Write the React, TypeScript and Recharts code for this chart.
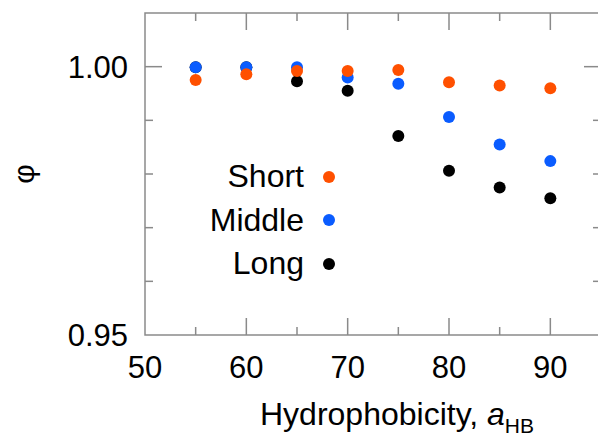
import { ScatterChart, Scatter, XAxis, YAxis, ReferenceArea, Legend } from "recharts"

// hydrophobicity a_HB on x, phi on y
const hydrophobicity = [55, 60, 65, 70, 75, 80, 85, 90]
const shortPhi = [0.9975, 0.9986, 0.9992, 0.9992, 0.9994, 0.9971, 0.9965, 0.996]
const middlePhi = [0.9999, 0.9999, 0.9999, 0.998, 0.9968, 0.9906, 0.9855, 0.9824]
const longPhi = [0.9999, 0.9999, 0.9973, 0.9955, 0.9871, 0.9806, 0.9775, 0.9755]

const seriesNames = ["Short", "Middle", "Long"]
const seriesColors = ["#ff5000", "#0a5cff", "#000000"]

const xTicks = [50, 55, 60, 65, 70, 75, 80, 85, 90]
const xLabels = [50, 60, 70, 80, 90]
const yTicks = [0.95, 0.96, 0.97, 0.98, 0.99, 1.0]
const yLabels = [0.95, 1.0]

const W = 601
const H = 441
const TOP = 13
const Y_AXIS_W = 145
const X_AXIS_H = 106
const PLOT_W = W - Y_AXIS_W
const PLOT_H = H - TOP - X_AXIS_H
const FRAME = "#8a8a8a"
const FONT = "'Liberation Sans', Arial, Helvetica, sans-serif"
const MAJOR = 17
const MINOR = 8

const toRows = (ys: number[]) => hydrophobicity.map((x, i) => ({ x, y: ys[i] }))

function BottomTick(props: any) {
  const { x, y, payload } = props
  const v = payload.value
  const len = v % 10 === 0 ? MAJOR : MINOR
  const top = y - PLOT_H
  return (
    <g>
      {v > 50 && (
        <>
          <line x1={x} y1={y} x2={x} y2={y - len} stroke={FRAME} strokeWidth={1.5} />
          <line x1={x} y1={top} x2={x} y2={top + len} stroke={FRAME} strokeWidth={1.5} />
        </>
      )}
      {xLabels.includes(v) && (
        <text x={x} y={y + 32} dy="0.35em" textAnchor="middle" fontSize={31} fontFamily={FONT} fill="#000">
          {v}
        </text>
      )}
    </g>
  )
}

function LeftTick(props: any) {
  const { x, y, payload } = props
  const v = payload.value
  const isLabel = yLabels.some((l) => Math.abs(l - v) < 1e-6)
  const len = isLabel ? MAJOR : MINOR
  const right = x + PLOT_W
  return (
    <g>
      {v > 0.951 && (
        <>
          <line x1={x} y1={y} x2={x + len} y2={y} stroke={FRAME} strokeWidth={1.5} />
          <line x1={right} y1={y} x2={right - len} y2={y} stroke={FRAME} strokeWidth={1.5} />
        </>
      )}
      {isLabel && (
        <text x={x - 17} y={y} dy="0.35em" textAnchor="end" fontSize={31} fontFamily={FONT} fill="#000">
          {v.toFixed(2)}
        </text>
      )}
    </g>
  )
}

function XTitle(props: any) {
  const vb = props.viewBox
  return (
    <text x={vb.x + vb.width / 2 + 24} y={vb.y + 90} textAnchor="middle" fontSize={32} fontFamily={FONT} fill="#000">
      Hydrophobicity, <tspan fontStyle="italic">a</tspan>
      <tspan fontSize={21} dy={8}>HB</tspan>
    </text>
  )
}

function YTitle(props: any) {
  const vb = props.viewBox
  const cx = 23
  const cy = vb.y + vb.height / 2
  return (
    <text x={cx} y={cy} dy="0.35em" textAnchor="middle" fontSize={30} fontFamily={FONT} fill="#000" transform={`rotate(-90 ${cx} ${cy})`}>
      φ
    </text>
  )
}

function LegendBox() {
  return (
    <div style={{ fontFamily: FONT, fontSize: 32, color: "#000" }}>
      {seriesNames.map((name, i) => (
        <div key={name} style={{ display: "flex", alignItems: "center", height: 43.5 }}>
          <span style={{ width: 104, textAlign: "right", lineHeight: "43.5px" }}>{name}</span>
          <span
            style={{
              display: "inline-block",
              width: 12,
              height: 12,
              borderRadius: 6,
              marginLeft: 19,
              background: seriesColors[i],
            }}
          />
        </div>
      ))}
    </div>
  )
}

const dot = (color: string) => (p: any) => <circle cx={p.cx} cy={p.cy} r={6} fill={color} />

export default function App() {
  return (
    <div style={{ position: "absolute", left: 0, top: 0, width: 598, height: 441, overflow: "hidden", background: "#fff" }}>
      <ScatterChart width={W} height={H} margin={{ top: TOP, right: 0, bottom: 0, left: 0 }}>
        <XAxis
          type="number"
          dataKey="x"
          domain={[50, 95]}
          ticks={xTicks}
          interval={0}
          height={X_AXIS_H}
          axisLine={false}
          tickLine={false}
          tickSize={0}
          tickMargin={0}
          tick={(p: any) => <BottomTick {...p} />}
          label={(p: any) => <XTitle {...p} />}
        />
        <YAxis
          type="number"
          dataKey="y"
          domain={[0.95, 1.01]}
          ticks={yTicks}
          interval={0}
          width={Y_AXIS_W}
          axisLine={false}
          tickLine={false}
          tickSize={0}
          tickMargin={0}
          allowDataOverflow
          tick={(p: any) => <LeftTick {...p} />}
          label={(p: any) => <YTitle {...p} />}
        />
        <ReferenceArea x1={50} x2={95} y1={0.95} y2={1.01} fill="none" stroke={FRAME} strokeWidth={1.5} />
        <Scatter name="Long" data={toRows(longPhi)} fill={seriesColors[2]} shape={dot(seriesColors[2])} isAnimationActive={false} />
        <Scatter name="Middle" data={toRows(middlePhi)} fill={seriesColors[1]} shape={dot(seriesColors[1])} isAnimationActive={false} />
        <Scatter name="Short" data={toRows(shortPhi)} fill={seriesColors[0]} shape={dot(seriesColors[0])} isAnimationActive={false} />
        <Legend
          layout="vertical"
          align="center"
          verticalAlign="middle"
          wrapperStyle={{ left: 200, top: 155, width: 140 }}
          content={() => <LegendBox />}
        />
      </ScatterChart>
    </div>
  )
}
